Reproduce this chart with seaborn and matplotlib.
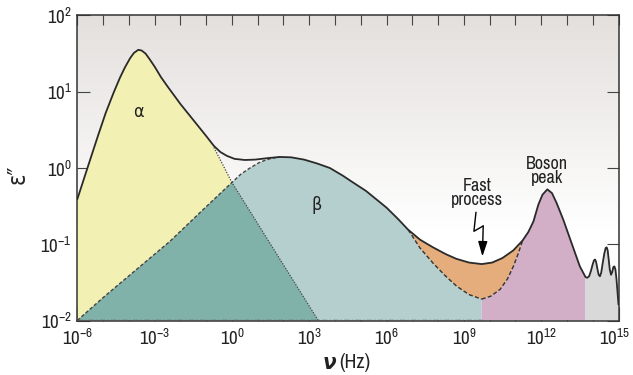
import numpy as np
import matplotlib
matplotlib.use("Agg")
import matplotlib.pyplot as plt
from matplotlib import font_manager
from matplotlib.transforms import ScaledTranslation
import seaborn as sns

# ---------------- data (log10 of frequency in Hz, log10 of eps'') ----------------
T_LOGX = [-6.0, -5.75, -5.5, -5.2, -4.9, -4.6, -4.35, -4.15, -3.95, -3.8, -3.63, -3.5, -3.35, -3.2,
          -3.0, -2.75, -2.5, -2.0, -1.5, -1.0, -0.7, -0.45, -0.2, 0.1, 0.5, 0.9, 1.4, 1.86, 2.3, 2.8,
          3.3, 3.8, 4.3, 4.7, 5.2, 5.6, 6.0, 6.45, 6.84, 7.3, 7.8, 8.3, 8.7, 9.2, 9.69, 10.1, 10.5,
          10.92, 11.28, 11.5, 11.7, 11.89, 12.05, 12.24, 12.42, 12.6, 12.86, 13.09, 13.3, 13.5, 13.72,
          13.78, 13.86, 13.93, 14.0, 14.05, 14.09, 14.13, 14.18, 14.23, 14.28, 14.33, 14.39, 14.45,
          14.5, 14.54, 14.58, 14.62, 14.66, 14.71, 14.75, 14.8, 14.84, 14.88, 14.92, 14.96, 15.0]
T_LOGY = [-0.41, -0.15, 0.11, 0.42, 0.72, 0.98, 1.18, 1.32, 1.44, 1.51, 1.55, 1.54, 1.50, 1.43,
          1.33, 1.19, 1.07, 0.84, 0.63, 0.42, 0.29, 0.21, 0.16, 0.12, 0.105, 0.11, 0.13, 0.145, 0.14, 0.11,
          0.06, 0.0, -0.10, -0.19, -0.30, -0.41, -0.52, -0.67, -0.81, -0.94, -1.04, -1.13, -1.19, -1.24, -1.26,
          -1.24, -1.18, -1.08, -0.95, -0.84, -0.70, -0.48, -0.35, -0.28, -0.33, -0.46, -0.68, -0.90, -1.10,
          -1.29, -1.43,
          -1.44, -1.42, -1.35, -1.26, -1.21, -1.20, -1.23, -1.32, -1.40, -1.42, -1.37, -1.24, -1.12,
          -1.05, -1.04, -1.08, -1.20, -1.33, -1.40, -1.37, -1.30, -1.29, -1.33, -1.45, -1.62, -1.79]

# alpha relaxation tail (below the total curve)
A_TAIL_LOGX = [-0.7, -0.35, 0.0, 1.0, 2.0, 3.35]
A_TAIL_LOGY = [0.27, 0.04, -0.19, -0.73, -1.27, -2.0]

# beta relaxation, rising part (below the total curve)
B_RISE_LOGX = [-6.0, -5.0, -3.7, -2.4, -1.1, 0.0, 0.35, 0.7, 1.05, 1.35, 1.6, 1.86]
B_RISE_LOGY = [-2.0, -1.70, -1.33, -0.96, -0.54, -0.19, -0.08, 0.0, 0.07, 0.11, 0.13, 0.145]

# beta relaxation, falling tail (below the total curve)
B_TAIL_LOGX = [6.84, 7.3, 7.81, 8.3, 8.72, 9.2, 9.69]
B_TAIL_LOGY = [-0.81, -1.05, -1.25, -1.42, -1.55, -1.66, -1.72]

# lower edge of the fast-process region (rising branch)
FP_LOGX = [9.69, 10.05, 10.41, 10.7, 10.92, 11.1, 11.28]
FP_LOGY = [-1.72, -1.68, -1.59, -1.45, -1.29, -1.13, -0.95]

# zigzag arrow of the "Fast process" label
ARROW_LOGX = [9.47, 9.39, 9.75]
ARROW_LOGY = [-0.58, -0.83, -0.76]
ARROW_TIP = (9.72, -1.16)

X_TICK_EXP = [-6, -3, 0, 3, 6, 9, 12, 15]
Y_TICK_EXP = [-2, -1, 0, 1, 2]

LABELS = {"alpha": ("α", -3.63, 0.74), "beta": ("β", 3.3, -0.49),
          "fast": ("Fast\nprocess", 9.5, -0.33), "boson": ("Boson\npeak", 12.24, -0.04)}

# ---------------- style ----------------
sns.set_theme(style="white")
names = {f.name for f in font_manager.fontManager.ttflist}
narrow_names = sorted(n for n in names if ("Narrow" in n or "Condensed" in n))
if "Liberation Sans Narrow" in names:
    narrow = "Liberation Sans Narrow"
elif narrow_names:
    narrow = narrow_names[0]
else:
    narrow = "Roboto"
plt.rcParams["font.family"] = [narrow, "DejaVu Sans"]
plt.rcParams["font.stretch"] = "condensed"
plt.rcParams["mathtext.fontset"] = "custom"
plt.rcParams["mathtext.rm"] = narrow + ":stretch=condensed"
plt.rcParams["mathtext.it"] = narrow + ":italic:stretch=condensed"
plt.rcParams["mathtext.bf"] = narrow + ":bold:stretch=condensed"

C_YELLOW = "#f3f0b3"
C_DTEAL = "#80b2a9"
C_LTEAL = "#b4cfcd"
C_ORANGE = "#e4ad7b"
C_PINK = "#d3aec7"
C_GRAY = "#d9d9d9"
C_LINE = "#2a2a2a"

fig = plt.figure(figsize=(6.33, 3.75), dpi=100)
pos = [0.1221, 0.1453, 0.8550, 0.8134]

# background gradient
bg = fig.add_axes(pos, zorder=0)
h = 300
frac = np.linspace(1, 0, h)  # top -> bottom
w = np.clip((frac - 0.3) / 0.7, 0, 1)[:, None]
top = np.array([0.890, 0.876, 0.866])
img = (1 - w)[..., None] * np.ones(3) + w[..., None] * top
img = np.repeat(img, 2, axis=1)
bg.imshow(img, extent=[0, 1, 0, 1], aspect="auto")
bg.axis("off")

ax = fig.add_axes(pos, zorder=1)
ax.set_facecolor("none")
ax.set_xscale("log")
ax.set_yscale("log")
ax.set_xlim(1e-6, 1e15)
ax.set_ylim(1e-2, 1e2)

tx, ty = np.array(T_LOGX), np.array(T_LOGY)
ax_t, ay_t = np.array(A_TAIL_LOGX), np.array(A_TAIL_LOGY)
bx_r, by_r = np.array(B_RISE_LOGX), np.array(B_RISE_LOGY)
bx_t, by_t = np.array(B_TAIL_LOGX), np.array(B_TAIL_LOGY)
fx, fy = np.array(FP_LOGX), np.array(FP_LOGY)
BASE = -2.0

def poly(xs, ys, color):
    xs = np.concatenate([[xs[0]], xs, [xs[-1]]])
    ys = np.concatenate([[BASE], ys, [BASE]])
    ax.fill(10 ** xs, 10 ** ys, color=color, lw=0, zorder=1)

# yellow: alpha peak
m = tx <= -1.0
poly(np.concatenate([tx[m], ax_t]), np.concatenate([ty[m], ay_t]), C_YELLOW)
# light teal: beta peak
m = (tx > 1.86) & (tx < 6.84)
poly(np.concatenate([bx_r, tx[m], bx_t]), np.concatenate([by_r, ty[m], by_t]), C_LTEAL)
# dark teal: overlap
mb = bx_r < 0.0
ma = ax_t >= 0.0
poly(np.concatenate([bx_r[mb], ax_t[ma]]), np.concatenate([by_r[mb], ay_t[ma]]), C_DTEAL)
# orange: fast process (between lower dashed edge and total curve)
m = (tx >= 6.84) & (tx <= 11.28)
ox = np.concatenate([tx[m], fx[::-1][1:], bx_t[::-1]])
oy = np.concatenate([ty[m], fy[::-1][1:], by_t[::-1]])
ax.fill(10 ** ox, 10 ** oy, color=C_ORANGE, lw=0, zorder=1)
# pink: boson peak
m = (tx > 11.28) & (tx <= 13.72)
poly(np.concatenate([fx, tx[m]]), np.concatenate([fy, ty[m]]), C_PINK)
# gray: high-frequency part
m = tx >= 13.72
poly(tx[m], ty[m], C_GRAY)

# lines
sns.lineplot(x=10 ** tx, y=10 ** ty, ax=ax, color=C_LINE, lw=1.3, estimator=None, sort=False, zorder=5)
ax.plot(10 ** ax_t, 10 ** ay_t, color="#444444", lw=0.9, ls=(0, (1, 1.2)), zorder=4)
ax.plot(10 ** bx_r, 10 ** by_r, color="#444444", lw=1.0, ls=(0, (2.5, 1.5)), zorder=4)
ax.plot(10 ** bx_t, 10 ** by_t, color="#333333", lw=1.0, ls=(0, (3, 1.6)), zorder=4)
ax.plot(10 ** fx, 10 ** fy, color="#333333", lw=1.0, ls=(0, (3, 1.6)), zorder=4)
ax.plot([1e-6, 10 ** 9.69], [1e-2 * 1.012, 1e-2 * 1.012], color="#555555", lw=1.0,
        ls=(0, (4, 1.5, 1, 1.5)), zorder=4)

# arrow
ax.plot(10 ** np.array(ARROW_LOGX), 10 ** np.array(ARROW_LOGY), color="black", lw=1.0, zorder=6)
ax.annotate("", xy=(10 ** ARROW_TIP[0], 10 ** ARROW_TIP[1]),
            xytext=(10 ** ARROW_LOGX[-1], 10 ** ARROW_LOGY[-1]),
            arrowprops=dict(arrowstyle="-|>,head_length=0.9,head_width=0.28", color="black", lw=1.0,
                            mutation_scale=10, shrinkA=0, shrinkB=0), zorder=6)

for key, (txt, lx, ly) in LABELS.items():
    if key in ("alpha", "beta"):
        ax.text(10 ** lx, 10 ** ly, txt, ha="center", va="center", fontsize=13, color="#222222",
                zorder=7, family=["DejaVu Sans"])
    else:
        ax.text(10 ** lx, 10 ** ly, txt, ha="center", va="center", fontsize=13, color="#222222",
                linespacing=0.82, zorder=7)

# ticks
ax.set_xticks([10.0 ** e for e in X_TICK_EXP])
ax.set_xticklabels([f"$10^{{{e}}}$" for e in X_TICK_EXP])
ax.set_xticks([10.0 ** e for e in range(-6, 16)], minor=True)
ax.set_xticklabels([], minor=True)
ax.set_yticks([10.0 ** e for e in Y_TICK_EXP])
ax.set_yticklabels([f"$10^{{{e}}}$" for e in Y_TICK_EXP])
ax.yaxis.set_minor_locator(matplotlib.ticker.NullLocator())
ax.tick_params(axis="x", which="major", direction="in", length=10, width=0.8, color="#444444",
               labelsize=13.5, pad=5, top=False, bottom=True)
ax.tick_params(axis="x", which="minor", direction="in", length=5, width=0.8, color="#444444",
               top=False, bottom=True)
ax.tick_params(axis="y", which="major", direction="in", length=9, width=0.8, color="#444444",
               labelsize=13.5, pad=4, left=True, right=True)
for lab in ax.get_xticklabels() + ax.get_yticklabels():
    lab.set_color("#222222")
last = ax.get_xticklabels()[-1]
last.set_transform(last.get_transform() + ScaledTranslation(-3 / 72, 0, fig.dpi_scale_trans))

sec = ax.secondary_xaxis("top")
sec.set_xticks([10.0 ** e for e in range(-6, 16)])
sec.set_xticklabels([])
sec.xaxis.set_minor_locator(matplotlib.ticker.NullLocator())
sec.tick_params(axis="x", which="major", direction="in", length=7, width=0.8, color="#444444")
sec.spines["top"].set_visible(False)

for s in ax.spines.values():
    s.set_visible(True)
    s.set_color("#333333")
    s.set_linewidth(1.1)

ax.set_ylabel("ε″", fontsize=17, family=["DejaVu Sans"])
ax.yaxis.set_label_coords(-0.088, 0.48)
ax.set_xlabel("")
ax.text(0.478, -0.138, "ν", transform=ax.transAxes, ha="right", va="center", fontsize=16,
        style="italic", weight="bold", family=["DejaVu Sans"], color="#222222")
ax.text(0.484, -0.138, "(Hz)", transform=ax.transAxes, ha="left", va="center", fontsize=14.5,
        color="#222222")

fig.savefig("out.png", dpi=100)
